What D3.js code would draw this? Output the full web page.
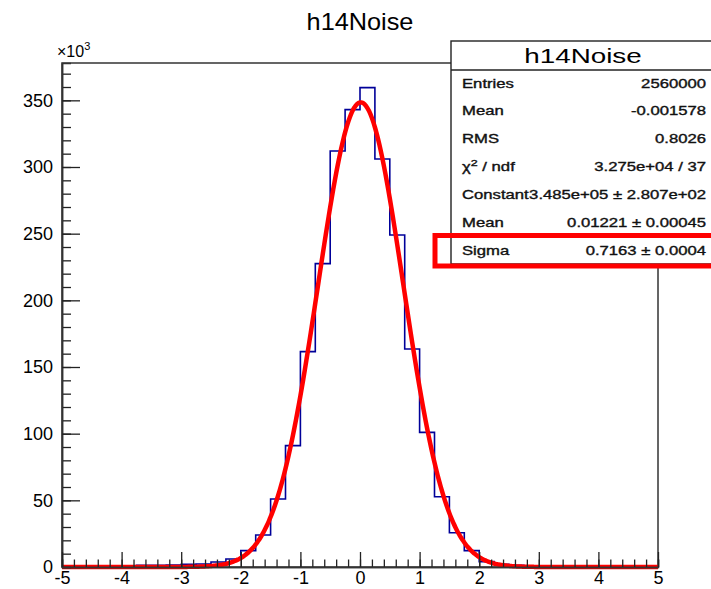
<!DOCTYPE html>
<html>
<head>
<meta charset="utf-8">
<script src="https://cdn.jsdelivr.net/npm/d3@7/dist/d3.min.js"></script>
<style>
  html, body { margin: 0; padding: 0; background: #fff; }
  svg { display: block; font-family: "Liberation Sans", Arial, sans-serif; }
</style>
</head>
<body>
<svg id="chart" width="711" height="589"></svg>
<script>
// Histogram h14Noise: 40 bins of width 0.25 on [-5, 5]
const xRange = [-5, 5];
const binCounts = [
  200, 200, 200, 200, 200,
  1300, 1300, 1400, 2000, 2200,
  3800, 6000, 12300, 24000, 51000,
  91000, 161500, 227500, 312000, 343000,
  359500, 306000, 249000, 163500, 101000,
  52700, 25700, 12300, 4000, 2000,
  1200, 200, 200, 200, 200,
  200, 200, 200, 200, 200
];
const yMaxValue = 378000;
const xTickValues = [-5, -4, -3, -2, -1, 0, 1, 2, 3, 4, 5];
const yTickValues = [0, 50, 100, 150, 200, 250, 300, 350];

// Gaussian fit result
const fitConstant = 3.485e5;
const fitMean = 0.01221;
const fitSigma = 0.7163;

// Statistics box rows
const statLabels = ["Entries", "Mean", "RMS", "χ2 / ndf", "Constant", "Mean", "Sigma"];
const statValues = ["2560000", "-0.001578", "0.8026", "3.275e+04 / 37",
                    "3.485e+05 ± 2.807e+02", "0.01221 ± 0.00045", "0.7163 ± 0.0004"];

const svg = d3.select("#chart");
const frame = { left: 62, right: 658, top: 63, bottom: 567 };

const x = d3.scaleLinear().domain(xRange).range([frame.left, frame.right]);
const y = d3.scaleLinear().domain([0, yMaxValue]).range([frame.bottom, frame.top]);
const yk = d3.scaleLinear().domain([0, yMaxValue / 1000]).range([frame.bottom, frame.top]);

// Text helper with horizontal stretch
function stretchedText(parent, px, py, sx, anchor, size) {
  return parent.append("text")
    .attr("transform", `translate(${px},${py}) scale(${sx},1)`)
    .attr("text-anchor", anchor)
    .attr("font-size", size);
}

// Title
stretchedText(svg, 360, 30, 1.1, "middle", 23).attr("fill", "#000").text("h14Noise");

// Frame
svg.append("rect")
  .attr("x", frame.left).attr("y", frame.top)
  .attr("width", frame.right - frame.left).attr("height", frame.bottom - frame.top)
  .attr("fill", "none").attr("stroke", "#333").attr("stroke-width", 1.5);

// Histogram outline
const nBins = binCounts.length;
const bw = (xRange[1] - xRange[0]) / nBins;
const stepPts = [];
binCounts.forEach((c, i) => {
  const lo = xRange[0] + i * bw;
  stepPts.push([lo, c], [lo + bw, c]);
});
svg.append("path")
  .attr("d", d3.line().x(d => x(d[0])).y(d => y(d[1]))(stepPts))
  .attr("fill", "none").attr("stroke", "#000099").attr("stroke-width", 1.6);

// Fitted Gaussian
const fitPts = d3.range(0, 401).map(i => {
  const xv = xRange[0] + i * (xRange[1] - xRange[0]) / 400;
  return [xv, fitConstant * Math.exp(-0.5 * Math.pow((xv - fitMean) / fitSigma, 2))];
});
svg.append("path")
  .attr("d", d3.line().x(d => x(d[0])).y(d => y(d[1])).curve(d3.curveMonotoneX)(fitPts))
  .attr("fill", "none").attr("stroke", "#ff0000").attr("stroke-width", 4.5)
  .attr("stroke-linejoin", "round");

// Axes
const axisStyle = g => {
  g.select(".domain").attr("stroke", "#333").attr("stroke-width", 1.5);
  g.selectAll(".tick line").attr("stroke", "#222").attr("stroke-width", 1.3);
  g.selectAll(".tick text").attr("fill", "#000").attr("font-size", 18)
    .attr("font-family", "Liberation Sans, Arial, sans-serif");
};

svg.append("g").attr("transform", `translate(${frame.left},0)`)
  .call(d3.axisLeft(yk).tickValues(d3.range(0, 371, 10)).tickSize(-9).tickFormat(""))
  .call(axisStyle);
svg.append("g").attr("transform", `translate(${frame.left},0)`)
  .call(d3.axisLeft(yk).tickValues(yTickValues).tickSize(-18).tickSizeOuter(0).tickPadding(9)
        .tickFormat(d => String(d)))
  .call(axisStyle);

svg.append("g").attr("transform", `translate(0,${frame.bottom})`)
  .call(d3.axisBottom(x).tickValues(d3.range(-50, 51, 2).map(v => v / 10)).tickSize(-7.5).tickFormat(""))
  .call(axisStyle);
svg.append("g").attr("transform", `translate(0,${frame.bottom})`)
  .call(d3.axisBottom(x).tickValues(xTickValues).tickSize(-15).tickSizeOuter(0).tickPadding(4)
        .tickFormat(d => String(d)))
  .call(axisStyle);

// Exponent marker
const expo = svg.append("text").attr("x", 57).attr("y", 57).attr("font-size", 16);
expo.append("tspan").text("×10");
expo.append("tspan").attr("dy", -7).attr("font-size", 11).text("3");

// Statistics box
const box = { x: 451, y: 41, w: 262, h: 223 };
svg.append("rect")
  .attr("x", box.x).attr("y", box.y).attr("width", box.w).attr("height", box.h)
  .attr("fill", "#fff").attr("stroke", "#222").attr("stroke-width", 1.4);
svg.append("line")
  .attr("x1", box.x).attr("x2", box.x + box.w).attr("y1", 70).attr("y2", 70)
  .attr("stroke", "#222").attr("stroke-width", 1.4);
stretchedText(svg, 583, 63, 1.39, "middle", 20).attr("fill", "#000").text("h14Noise");

const rowSx = 1.39, rowSize = 12;
statLabels.forEach((lab, i) => {
  const yy = 87.5 + i * 27.9;
  const t = stretchedText(svg, 462, yy, rowSx, "start", rowSize)
    .attr("fill", "#111").attr("stroke", "#111").attr("stroke-width", 0.35);
  if (lab.startsWith("χ2")) {
    t.append("tspan").text("χ");
    t.append("tspan").attr("dy", -5).attr("font-size", 9).text("2");
    t.append("tspan").attr("dy", 5).text(" / ndf");
  } else {
    t.text(lab);
  }
  stretchedText(svg, 706, yy, rowSx, "end", rowSize)
    .attr("fill", "#111").attr("stroke", "#111").attr("stroke-width", 0.35)
    .text(statValues[i]);
});

// Highlight around the Sigma row
svg.append("rect")
  .attr("x", 435).attr("y", 235.5).attr("width", 290).attr("height", 30.5)
  .attr("fill", "none").attr("stroke", "#ff0000").attr("stroke-width", 5);
</script>
</body>
</html>
